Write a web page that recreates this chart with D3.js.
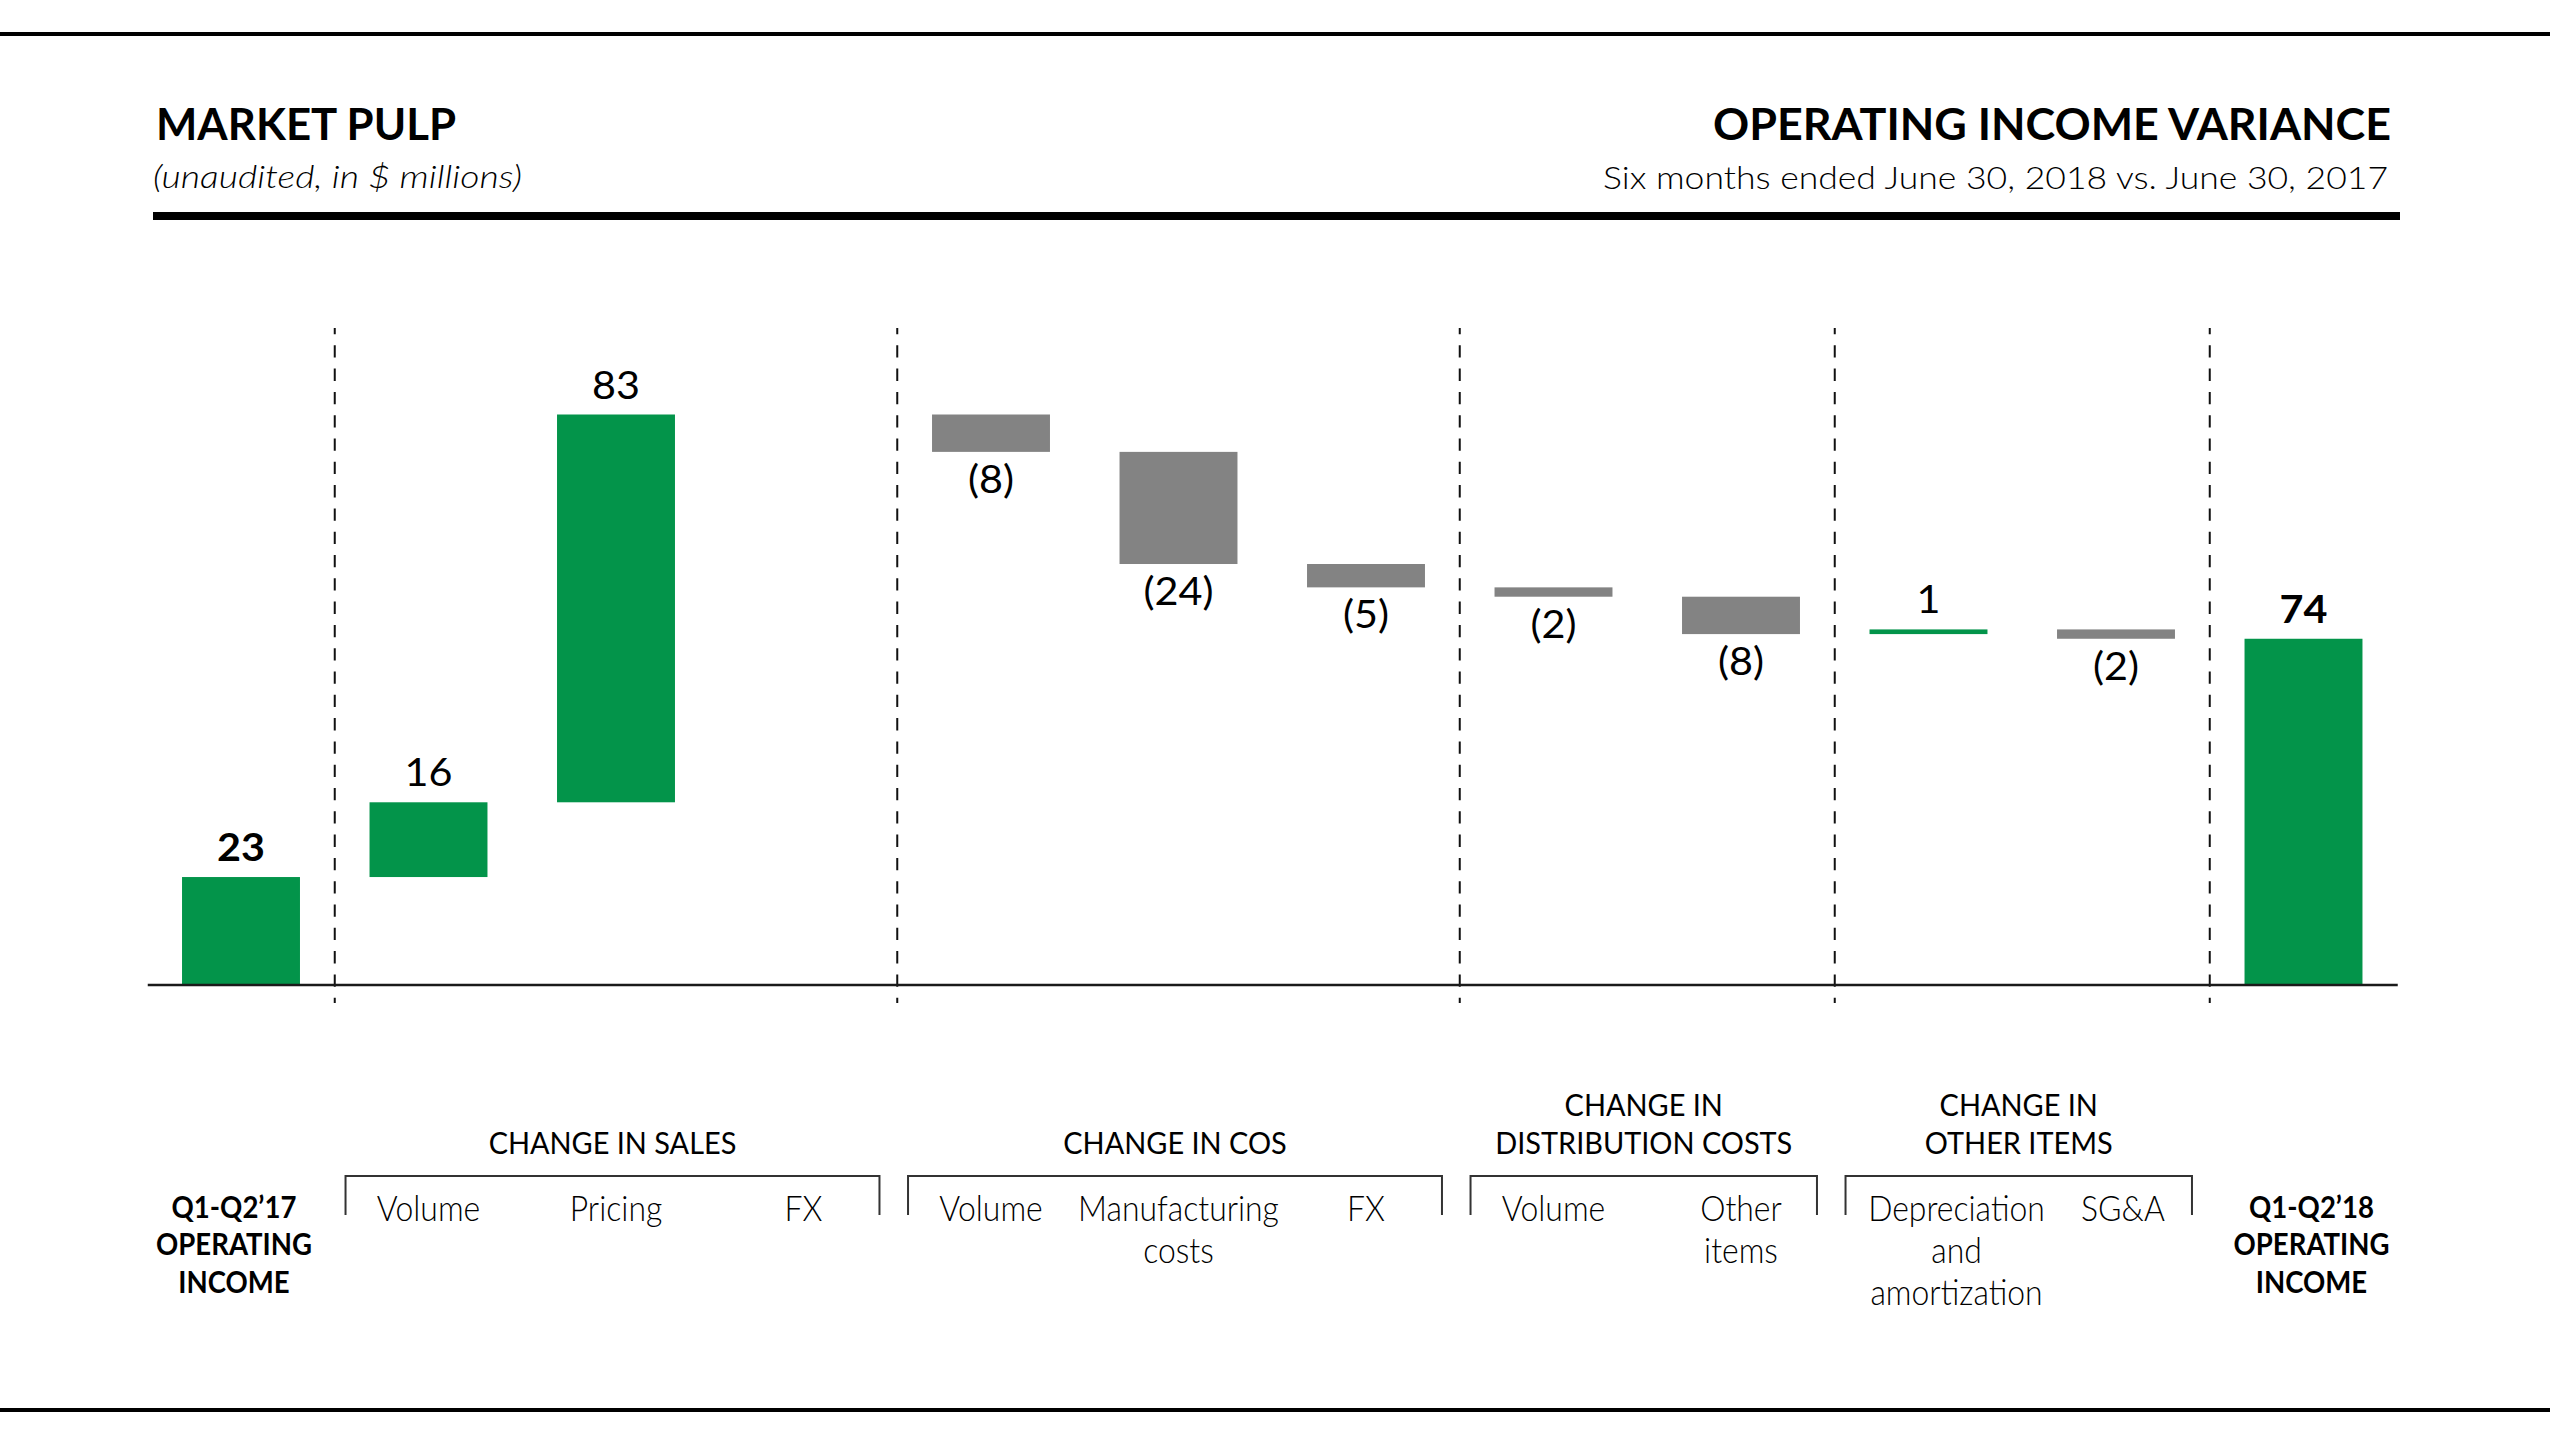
<!DOCTYPE html>
<html>
<head>
<meta charset="utf-8">
<script src="https://cdn.jsdelivr.net/npm/d3@7"></script>
<style>
  html, body { margin: 0; padding: 0; background: #fff; }
  svg { display: block; }
  text { font-family: Lato, "Liberation Sans", Arial, sans-serif; fill: #000; }
</style>
</head>
<body>
<svg id="chart" width="2550" height="1434"></svg>
<script>
// ---------------- DATA ----------------
const categories = [
  "Q1-Q2'17 OPERATING INCOME", "Volume", "Pricing", "FX",
  "Volume", "Manufacturing costs", "FX",
  "Volume", "Other items",
  "Depreciation and amortization", "SG&A",
  "Q1-Q2'18 OPERATING INCOME"
];
const categoryLines = [
  ["Q1-Q2’17", "OPERATING", "INCOME"], ["Volume"], ["Pricing"], ["FX"],
  ["Volume"], ["Manufacturing", "costs"], ["FX"],
  ["Volume"], ["Other", "items"],
  ["Depreciation", "and", "amortization"], ["SG&A"],
  ["Q1-Q2’18", "OPERATING", "INCOME"]
];
const barTypes = ["total", "delta", "delta", "delta", "delta", "delta", "delta", "delta", "delta", "delta", "delta", "total"];
const values = [23, 16, 83, 0, -8, -24, -5, -2, -8, 1, -2, 74];
const valueLabels = ["23", "16", "83", "", "(8)", "(24)", "(5)", "(2)", "(8)", "1", "(2)", "74"];

const groupNames = [["CHANGE IN SALES"], ["CHANGE IN COS"], ["CHANGE IN", "DISTRIBUTION COSTS"], ["CHANGE IN", "OTHER ITEMS"]];
const groupFirst = [1, 4, 7, 9];
const groupLast = [3, 6, 8, 10];

const titleLeft = "MARKET PULP";
const subtitleLeft = "(unaudited, in $ millions)";
const titleRight = "OPERATING INCOME VARIANCE";
const subtitleRight = "Six months ended June 30, 2018 vs. June 30, 2017";

// ---------------- LAYOUT / STYLE ----------------
const W = 2550, H = 1434;
const GREEN = "#03944a", GRAY = "#838383";
const baseY = 984.5;
const labelShift = { 0: -7, 9: 28, 10: 7, 11: 8 };

const svg = d3.select("#chart");

// waterfall computation
let cum = 0;
const bars = values.map((v, i) => {
  let y0, y1;
  if (barTypes[i] === "total") { y0 = 0; y1 = v; cum = v; }
  else { y0 = cum; y1 = cum + v; cum = y1; }
  return { i, v, y0, y1, type: barTypes[i], label: valueLabels[i] };
});

const x = d3.scaleBand()
  .domain(d3.range(categories.length))
  .range([147.25, 2397.25])
  .paddingInner(0.371)
  .paddingOuter(0.371 / 2);

const y = d3.scaleLinear().domain([0, 122]).range([baseY, 414.5]);

const bw = x.bandwidth();
const cx = i => x(i) + bw / 2;

// helpers
function measure(str, size, weight, style) {
  const t = svg.append("text").attr("font-size", size).attr("font-weight", weight || 400)
    .attr("font-style", style || "normal").text(str);
  const w = t.node().getComputedTextLength();
  t.remove();
  return w;
}
function factorFor(samples, size, weight, style) {
  const nat = d3.sum(samples, s => measure(s[0], size, weight, style));
  const tgt = d3.sum(samples, s => s[1]);
  return tgt / nat;
}
function squeeze(sel, f) {
  sel.each(function () {
    const w = this.getComputedTextLength();
    this.setAttribute("textLength", w * f);
    this.setAttribute("lengthAdjust", "spacingAndGlyphs");
  });
}
function fitTo(sel, target) {
  sel.attr("textLength", target).attr("lengthAdjust", "spacingAndGlyphs");
}
// multi-line text block: one <text> per label, horizontally compressed by fx
function multiline(parent, data, opts) {
  const t = parent.selectAll(null).data(data).join("text")
    .attr("transform", d => `translate(${d.x},${d.y}) scale(${opts.fx},1)`)
    .attr("text-anchor", "middle")
    .attr("font-size", opts.size)
    .attr("font-weight", opts.weight);
  t.selectAll("tspan").data(d => d.lines).join("tspan")
    .attr("x", 0)
    .attr("dy", (d, j) => j === 0 ? 0 : opts.lh)
    .text(d => d);
  return t;
}

// ---------------- RULES ----------------
svg.append("rect").attr("x", 0).attr("y", 32).attr("width", W).attr("height", 4).attr("fill", "#000");
svg.append("rect").attr("x", 0).attr("y", 1408).attr("width", W).attr("height", 4).attr("fill", "#000");
svg.append("rect").attr("x", 153).attr("y", 212).attr("width", 2400 - 153).attr("height", 8).attr("fill", "#000");

// ---------------- TITLES ----------------
svg.append("text").attr("x", 156).attr("y", 140).attr("font-size", 44).attr("font-weight", 700)
  .text(titleLeft).call(fitTo, 300);
svg.append("text").attr("x", 153).attr("y", 188).attr("font-size", 32).attr("font-weight", 300)
  .attr("font-style", "italic").text(subtitleLeft).call(fitTo, 369);
svg.append("text").attr("x", 2391).attr("y", 140).attr("font-size", 44).attr("font-weight", 700)
  .attr("text-anchor", "end").text(titleRight).call(fitTo, 678);
svg.append("text").attr("x", 2388).attr("y", 189).attr("font-size", 32).attr("font-weight", 300)
  .attr("text-anchor", "end").text(subtitleRight).call(fitTo, 785);

// ---------------- DIVIDERS ----------------
const dividerAfter = groupFirst.map(g => g - 1).concat([groupLast[groupLast.length - 1]]);
svg.append("g").selectAll("line").data(dividerAfter).join("line")
  .attr("x1", d => cx(d) + x.step() / 2).attr("x2", d => cx(d) + x.step() / 2)
  .attr("y1", 328).attr("y2", 1003)
  .attr("stroke", "#111").attr("stroke-width", 2)
  .attr("stroke-dasharray", "12.3 11").attr("stroke-dashoffset", 6);

// ---------------- BARS ----------------
svg.append("g").selectAll("rect").data(bars.filter(d => d.v !== 0)).join("rect")
  .attr("x", d => x(d.i))
  .attr("width", bw)
  .attr("y", d => y(Math.max(d.y0, d.y1)))
  .attr("height", d => Math.abs(y(d.y0) - y(d.y1)))
  .attr("fill", d => (d.type === "total" || d.v > 0) ? GREEN : GRAY);

// baseline axis
svg.append("g").attr("transform", `translate(0,${baseY})`)
  .call(d3.axisBottom(x).tickSize(0).tickFormat(""))
  .call(g => g.select(".domain").attr("stroke", "#1a1a1a").attr("stroke-width", 2.5));

// value labels
const valF = factorFor([["(24)", 70]], 39, 400);
svg.append("g").selectAll("text").data(bars.filter(d => d.label !== "")).join("text")
  .attr("x", d => cx(d.i))
  .attr("y", d => d.v >= 0 ? y(Math.max(d.y0, d.y1)) - 16 : y(Math.min(d.y0, d.y1)) + 41)
  .attr("text-anchor", "middle")
  .attr("font-size", 39)
  .attr("font-weight", d => d.type === "total" ? 700 : 400)
  .text(d => d.label)
  .call(squeeze, valF);

// ---------------- GROUP BRACKETS ----------------
const groups = groupNames.map((n, k) => ({
  lines: n,
  left: x(groupFirst[k]) - 24,
  right: x(groupLast[k]) + bw + 17
}));
const bracketY = 1176, bracketBottom = 1215;
svg.append("g").selectAll("path").data(groups).join("path")
  .attr("d", g => `M${g.left},${bracketBottom}V${bracketY}H${g.right}V${bracketBottom}`)
  .attr("fill", "none").attr("stroke", "#333").attr("stroke-width", 2);

const hdrF = factorFor([["DISTRIBUTION COSTS", 297], ["CHANGE IN SALES", 248]], 30, 400);
multiline(svg.append("g"),
  groups.map(g => ({ lines: g.lines, x: (g.left + g.right) / 2, y: 1154 - (g.lines.length - 1) * 38 })),
  { fx: hdrF, size: 30, weight: 400, lh: 38 });

// ---------------- CATEGORY LABELS ----------------
const itemF = factorFor([["Volume", 103], ["Manufacturing", 201], ["Depreciation", 177]], 35, 300);
const totF = factorFor([["OPERATING", 156]], 30, 700);
const cats = categoryLines.map((lines, i) => ({
  lines, total: barTypes[i] === "total",
  x: cx(i) + (labelShift[i] || 0),
  y: barTypes[i] === "total" ? 1218 : 1221
}));
multiline(svg.append("g"), cats.filter(d => !d.total), { fx: itemF, size: 35, weight: 300, lh: 42 });
multiline(svg.append("g"), cats.filter(d => d.total), { fx: totF, size: 30, weight: 700, lh: 37.5 });
</script>
</body>
</html>
